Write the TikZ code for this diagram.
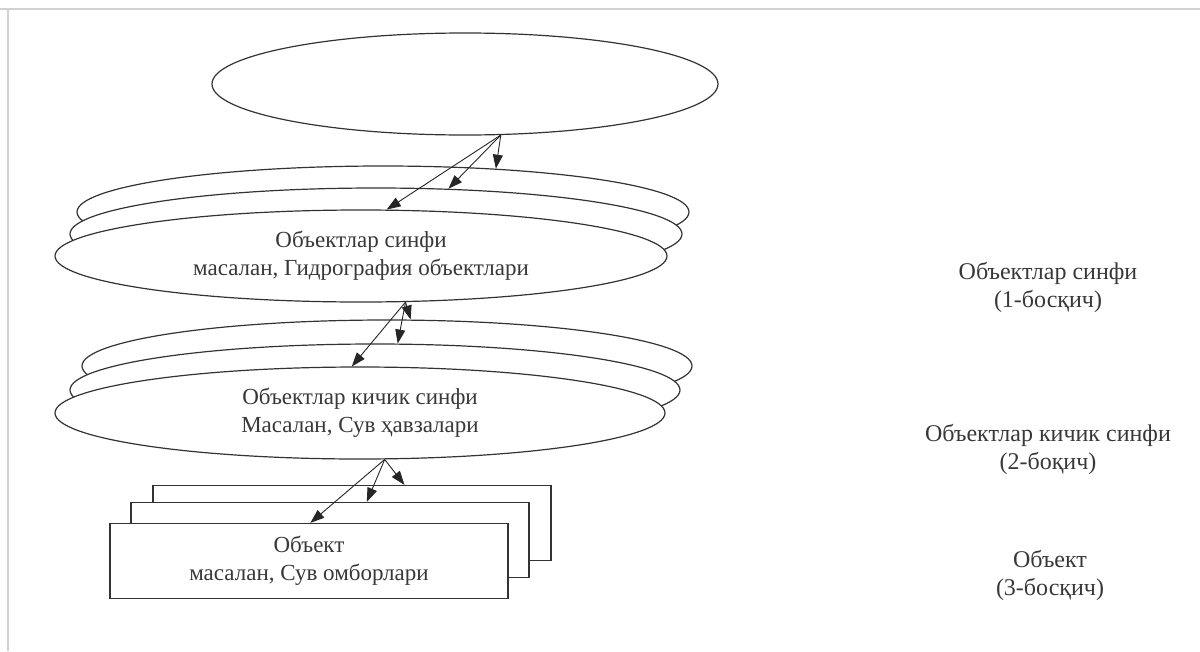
\documentclass[tikz,border=0pt]{standalone}
\usepackage{fontspec}
\setmainfont{Liberation Serif}
\usetikzlibrary{shapes.geometric,arrows.meta}
\definecolor{ink}{gray}{0.2}
\definecolor{txt}{gray}{0.22}
\definecolor{frame}{gray}{0.82}
\begin{document}
\begin{tikzpicture}[x=1pt,y=-1pt,
  lab/.style={font=\fontsize{23}{28}\selectfont, text=txt, align=center},
  ellbox/.style={ellipse, draw=ink, line width=1.2pt, fill=white, inner sep=0pt,
    minimum width=#1, minimum height=92pt, lab},
  recbox/.style={rectangle, draw=ink, line width=1.2pt, fill=white, inner sep=0pt,
    minimum width=398pt, minimum height=75pt, lab},
  arr/.style={draw=black!85, line width=0.9pt, -{Triangle[length=14pt,width=10pt]}},
  note/.style={font=\fontsize{24}{28}\selectfont, text=txt, align=center, inner sep=0pt}
]
\useasboundingbox (0,0) rectangle (1200,651);
% page frame
\draw[frame, line width=1.2pt] (0,9) -- (1200,9);
\draw[frame, line width=1.2pt] (8,9) -- (8,651);

% top ellipse
\node[ellipse, draw=ink, line width=1.2pt, fill=white, inner sep=0pt,
  minimum width=506pt, minimum height=102pt] (top) at (465,84) {};

% level 1
\node[ellbox=612pt] (l1b) at (383,212) {};
\node[ellbox=612pt] (l1m) at (376,234) {};
\node[ellbox=612pt] (l1f) at (361,256) {Объектлар синфи\\масалан, Гидрография объектлари};

% level 2
\node[ellbox=610pt] (l2b) at (387,366) {};
\node[ellbox=610pt] (l2m) at (375,390) {};
\node[ellbox=610pt] (l2f) at (360,413) {Объектлар кичик синфи\\Масалан, Сув ҳавзалари};

% level 3
\node[recbox] (r3b) at (352,523) {};
\node[recbox] (r3m) at (330,540) {};
\node[recbox] (r3f) at (309,561) {Объект\\масалан, Сув омборлари};

% arrows
\draw[arr] (top.-55) -- (l1b.21);
\draw[arr] (top.-55) -- (l1m.32);
\draw[arr] (top.-55) -- (l1f.61);
\draw[arr] (l1f.-46) -- (l2b.63);
\draw[arr] (l1f.-46) -- (l2m.64);
\draw[arr] (l1f.-46) -- (l2f.100);
\draw[arr] (l2f.-62) -- (r3b.36);
\draw[arr] (l2f.-62) -- (r3m.46);
\draw[arr] (l2f.-62) -- (r3f.88);

% right-hand labels
\node[note] (n1) at (1048,287) {Объектлар синфи\\(1-босқич)};
\node[note] (n2) at (1048,449) {Объектлар кичик синфи\\(2-боқич)};
\node[note] (n3) at (1050,575) {Объект\\(3-босқич)};
\end{tikzpicture}
\end{document}
